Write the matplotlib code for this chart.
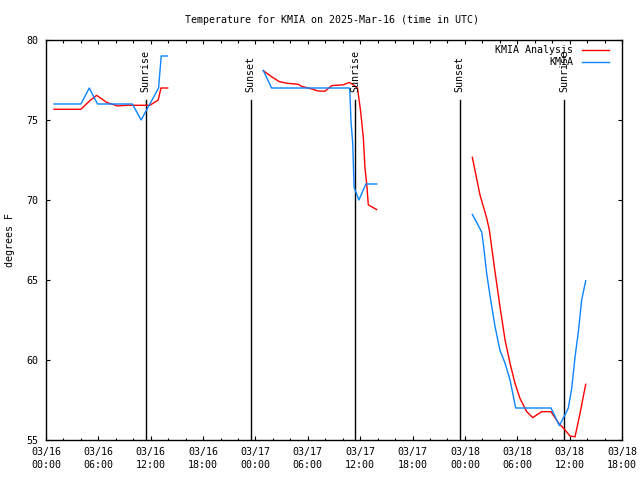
import matplotlib
matplotlib.use("Agg")
import matplotlib.pyplot as plt
import matplotlib.transforms as mtransforms
import numpy as np

# ---------------- data (hours since 03/16 00:00 UTC, degrees F) -------------
# KMIA observations (blue)
obs_t1 = [0.92, 4.0, 4.96, 5.9, 9.9, 10.9, 12.9, 13.2, 13.9]
obs_v1 = [76.0, 76.0, 77.0, 76.0, 76.0, 75.0, 77.0, 79.0, 79.0]
obs_t2 = [24.9, 25.85, 34.8, 34.95, 35.15, 35.3, 35.85, 36.65, 37.9]
obs_v2 = [78.1, 77.0, 77.0, 74.9, 73.5, 70.8, 70.0, 71.0, 71.0]
obs_t3 = [48.85, 49.35, 49.92, 50.1, 50.5, 50.88, 51.45, 52.02, 52.6, 53.17,
          53.82, 57.87, 58.82, 59.36, 59.85, 60.24, 60.62, 61.0, 61.38, 61.84]
obs_v3 = [69.1, 68.6, 68.0, 67.3, 65.4, 64.0, 62.1, 60.6, 59.8, 58.75,
          57.0, 57.0, 55.9, 56.46, 57.0, 58.23, 60.2, 61.77, 63.75, 64.96]

# KMIA Analysis (red)
ana_t1 = [0.92, 4.0, 5.0, 5.8, 6.95, 8.17, 9.3, 11.9, 12.86, 13.17, 13.94]
ana_v1 = [75.67, 75.67, 76.2, 76.54, 76.1, 75.88, 75.92, 75.92, 76.25, 77.0, 77.0]
ana_t2 = [24.9, 25.86, 26.73, 27.58, 28.91, 29.3, 30.45, 31.2, 31.97, 32.74,
          34.07, 34.75, 35.21, 35.69, 36.06, 36.36, 36.55, 36.75, 36.93, 37.89]
ana_v2 = [78.08, 77.7, 77.4, 77.3, 77.23, 77.1, 76.94, 76.81, 76.8, 77.15,
          77.2, 77.35, 77.2, 77.0, 75.5, 73.9, 72.0, 71.0, 69.7, 69.4]
ana_t3 = [48.85, 49.73, 50.5, 50.8, 51.37, 52.02, 52.6, 53.17, 53.74, 54.31,
          55.08, 55.77, 56.8, 57.87, 58.7, 59.47, 60.04, 60.62, 61.19, 61.84]
ana_v3 = [72.67, 70.31, 68.86, 68.13, 65.83, 63.33, 61.25, 59.79, 58.54, 57.6,
          56.77, 56.4, 56.77, 56.77, 56.08, 55.63, 55.25, 55.2, 56.67, 58.48]

# sunrise / sunset events
event_t = [11.43, 23.45, 35.45, 47.4, 59.38]
event_lbl = ["Sunrise", "Sunset", "Sunrise", "Sunset", "Sunrise"]

x_ticks = [0, 6, 12, 18, 24, 30, 36, 42, 48, 54, 60, 66]
x_tick_labels = ["03/16\n00:00", "03/16\n06:00", "03/16\n12:00", "03/16\n18:00",
                 "03/17\n00:00", "03/17\n06:00", "03/17\n12:00", "03/17\n18:00",
                 "03/18\n00:00", "03/18\n06:00", "03/18\n12:00", "03/18\n18:00"]
y_ticks = [55, 60, 65, 70, 75, 80]

title = "Temperature for KMIA on 2025-Mar-16 (time in UTC)"
ylabel = "degrees F"
series_names = ["KMIA Analysis", "KMIA"]

RED = "#ff0000"
BLUE = "#0a84ff"
FONT = "DejaVu Sans Mono"
FS = 7.2

plt.rcParams["font.family"] = FONT
fig = plt.figure(figsize=(6.4, 4.8), dpi=100)
ax = fig.add_axes([46 / 640, 40 / 480, 576 / 640, 400 / 480])

lw = 1.0
for t, v in [(ana_t1, ana_v1), (ana_t2, ana_v2), (ana_t3, ana_v3)]:
    ax.plot(t, v, color=RED, lw=lw, zorder=3)
for t, v in [(obs_t1, obs_v1), (obs_t2, obs_v2), (obs_t3, obs_v3)]:
    ax.plot(t, v, color=BLUE, lw=lw, zorder=3)

trans = mtransforms.blended_transform_factory(ax.transData, ax.transAxes)
for t, lbl in zip(event_t, event_lbl):
    ax.axvline(t, ymin=0, ymax=0.85, color="black", lw=1.0, zorder=2)
    ax.text(t, 0.87, lbl, rotation=90, ha="center", va="bottom",
            transform=trans, fontsize=FS, zorder=4)

ax.set_xlim(0, 66)
ax.set_ylim(55, 80)
ax.set_xticks(x_ticks)
ax.set_xticklabels(x_tick_labels, linespacing=1.4)
ax.set_xticks(np.arange(0, 67, 2), minor=True)
ax.set_yticks(y_ticks)
ax.set_yticklabels([str(v) for v in y_ticks])
ax.tick_params(axis="both", which="major", direction="in", length=3.2, width=0.8,
               top=True, right=True, labelsize=FS)
ax.tick_params(axis="x", which="minor", direction="in", length=1.8, width=0.8,
               top=True)
ax.tick_params(axis="x", which="major", pad=5.0)
ax.tick_params(axis="y", which="major", pad=5.5)
for s in ax.spines.values():
    s.set_linewidth(1.0)

# legend (manual, gnuplot style)
leg_y = [0.976, 0.945]
for name, col, yy in zip(series_names, [RED, BLUE], leg_y):
    ax.plot([0.930, 0.978], [yy, yy], color=col, lw=1.0,
            transform=ax.transAxes, clip_on=False, zorder=5)
    ax.text(0.9155, yy, name, ha="right", va="center", transform=ax.transAxes,
            fontsize=FS, zorder=5)

fig.text(332 / 640, 1 - 20 / 480, title, ha="center", va="center", fontsize=FS)
fig.text(10 / 640, 0.5, ylabel, rotation=90, ha="center", va="center", fontsize=FS)

fig.savefig("out.png", dpi=100)
